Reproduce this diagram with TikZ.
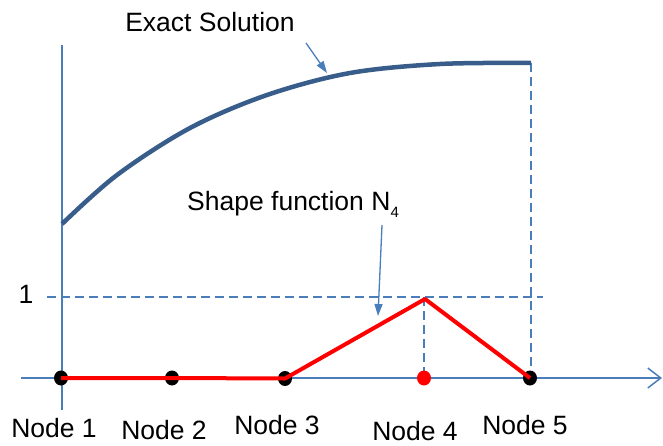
\documentclass[tikz,border=0pt]{standalone}
\usepackage{fontspec}
\setmainfont{Liberation Sans}
\usetikzlibrary{shapes, positioning, calc, arrows.meta}
\definecolor{axisblue}{HTML}{4A7EBB}
\definecolor{curveblue}{HTML}{385D8A}

\begin{document}
\begin{tikzpicture}[x=1pt, y=-1pt,
    font=\fontsize{26.5}{30}\selectfont,
    tag/.style={inner sep=0pt, anchor=center},
    dot/.style={ellipse, 
      fill=#1, 
      minimum width=14pt, 
      minimum height=15pt, 
      inner sep=0pt},
    guide/.style={axisblue, line width=1.5pt, dash pattern=on 9pt off 5pt},
    pointer/.style={axisblue, line width=1.3pt, 
      -{Triangle[length=12pt, width=8pt]}}]

  \useasboundingbox (0,0) rectangle (663,445);

  % POINTS

  \coordinate (ytop) at (62,45);
  \coordinate (ybot) at (62,410);
  \coordinate (xleft) at (21,378);
  \coordinate (xright) at (662,378);
  \coordinate (oneleft) at (47,297);
  \coordinate (oneright) at (543,297);
  \coordinate (peak) at (425,299);
  \coordinate (solstart) at (62,224);
  \coordinate (solend) at (531,63);

  % GUIDES

  \draw[guide] (oneleft) -- (oneright);
  \draw[guide] (424,297) -- (424,378);
  \draw[guide] (solend) -- (531,378);

  % AXES

  \draw[axisblue, line width=1.5pt] (ytop) -- (ybot);
  \draw[axisblue, line width=1.5pt, 
    -{Straight Barb[length=13pt, width=20pt]}] (xleft) -- (xright);

  % EXACT SOLUTION

  \draw[curveblue, line width=4.5pt] plot[smooth, tension=0.55] 
    coordinates {(solstart) (117,175) (190,128) (267,95) (350,73) 
    (440,64) (solend)};

  % NODES

  \node [dot=black] (node1) at (61,378) {};
  \node [dot=black] (node2) at (172,378) {};
  \node [dot=black] (node3) at (285,378.5) {};
  \node [dot=red] (node4) at (424,378) {};
  \node [dot=black] (node5) at (530,378) {};

  % SHAPE FUNCTION

  \draw[red, line width=4pt, line join=round] (node1.center) 
    -- (node2.center) -- (node3.center) 
    -- (peak) -- (node5.center);

  % LABELS

  \node [tag] (node1label) at (54,428) {Node 1};
  \node [tag] (node2label) at (164,430) {Node 2};
  \node [tag] (node3label) at (277,425) {Node 3};
  \node [tag] (node4label) at (415,431) {Node 4};
  \node [tag] (node5label) at (525,425) {Node 5};
  \node [tag] (onelabel) at (26,294) {1};

  \node [tag] (exacttitle) at (210,22) {Exact Solution};
  \node [inner sep=0pt, anchor=base west] (shapetitle) at (187,210) 
    {Shape function N\raisebox{-7pt}{\fontsize{15}{15}\selectfont 4}};

  \draw[pointer] (306,43) -- (327,73);
  \draw[pointer] (382,225) -- (378,316);

\end{tikzpicture}
\end{document}
